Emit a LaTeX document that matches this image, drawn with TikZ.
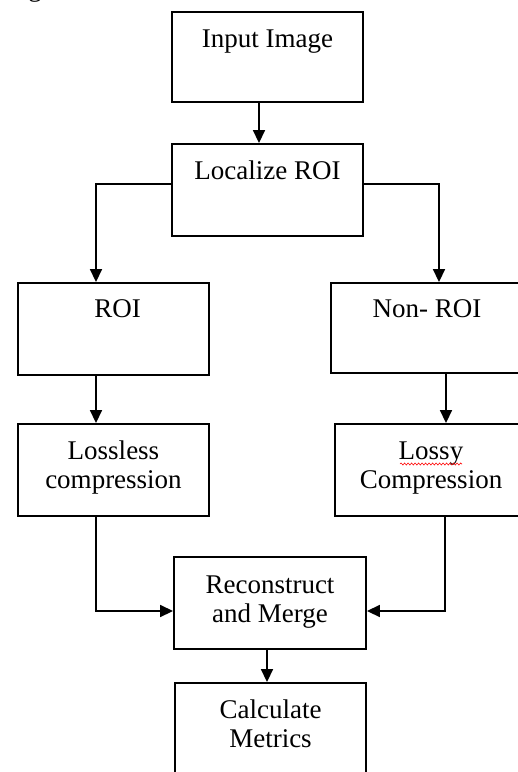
\documentclass[tikz,border=0pt]{standalone}
\usepackage{fontspec}
\setmainfont{Liberation Serif}
\usetikzlibrary{arrows.meta,decorations.pathmorphing}
\begin{document}
\begin{tikzpicture}[x=1pt,y=-1pt,
  box/.style={draw=black, line width=1.9pt, inner sep=0pt, minimum width=#1},
  box/.default=191,
  lbl/.style={anchor=base, inner sep=0pt, align=center,
    font=\fontsize{27}{29.5}\selectfont},
  arr/.style={line width=1.7pt, -{Triangle[length=13pt,width=12pt]}}]
\useasboundingbox (0,0) rectangle (518,772);
\clip (0,0) rectangle (518,772);

% boxes (centre given in pixel-like units, y grows downwards)
\node[box, minimum height=90] (inp) at (267.5,57) {};
\node[box, minimum height=92] (loc) at (267.5,190) {};
\node[box, minimum height=92] (roi) at (113.5,329) {};
\node[box=192, minimum height=90] (non) at (427,328) {};
\node[box, minimum height=92] (lsl) at (113.5,470) {};
\node[box=192, minimum height=92] (lsy) at (431,470) {};
\node[box=192, minimum height=92] (rec) at (270,603) {};
\node[box, minimum height=140] (cal) at (270.5,753) {};

% labels: base anchor sits on the last line, 36 (+29.5 per extra line) below the top
\node[lbl] (tinp) at ([yshift=-36pt]inp.north) {Input Image};
\node[lbl] (tloc) at ([yshift=-36pt]loc.north) {Localize ROI};
\node[lbl] (troi) at ([yshift=-35pt,xshift=4pt]roi.north) {ROI};
\node[lbl] (tnon) at ([yshift=-35pt]non.north) {Non- ROI};
\node[lbl] (tlsl) at ([yshift=-65.5pt]lsl.north) {Lossless\\compression};
\node[lbl] (tlsy) at ([yshift=-65.5pt]lsy.north) {Lossy\\Compression};
\node[lbl] (trec) at ([yshift=-66.5pt]rec.north) {Reconstruct\\and Merge};
\node[lbl] (tcal) at ([yshift=-65.5pt]cal.north) {Calculate\\Metrics};

% caption fragment at the top edge
\node[lbl] (cap) at (35,-4) {g};

% spell-check squiggle under "Lossy"
\draw[red, line width=0.6pt, decorate,
  decoration={snake, amplitude=1pt, segment length=3.5pt}]
  (400,464) -- (462,464);

% connectors
\draw[arr] ([xshift=-8.5pt]inp.south) -- ([xshift=-8.5pt]inp.south |- loc.north);
\draw[arr] ([yshift=6pt]loc.west) -| (96,0 |- roi.north);
\draw[arr] ([yshift=6pt]loc.east) -| (439,0 |- non.north);
\draw[arr] (96,0 |- roi.south) -- (96,0 |- lsl.north);
\draw[arr] (446,0 |- non.south) -- (446,0 |- lsy.north);
\draw[arr] (96,0 |- lsl.south) |- ([yshift=-8pt]rec.west);
\draw[arr] (445,0 |- lsy.south) |- ([yshift=-8pt]rec.east);
\draw[arr] ([xshift=-3pt]rec.south) -- ([xshift=-3pt]rec.south |- cal.north);
\end{tikzpicture}
\end{document}
